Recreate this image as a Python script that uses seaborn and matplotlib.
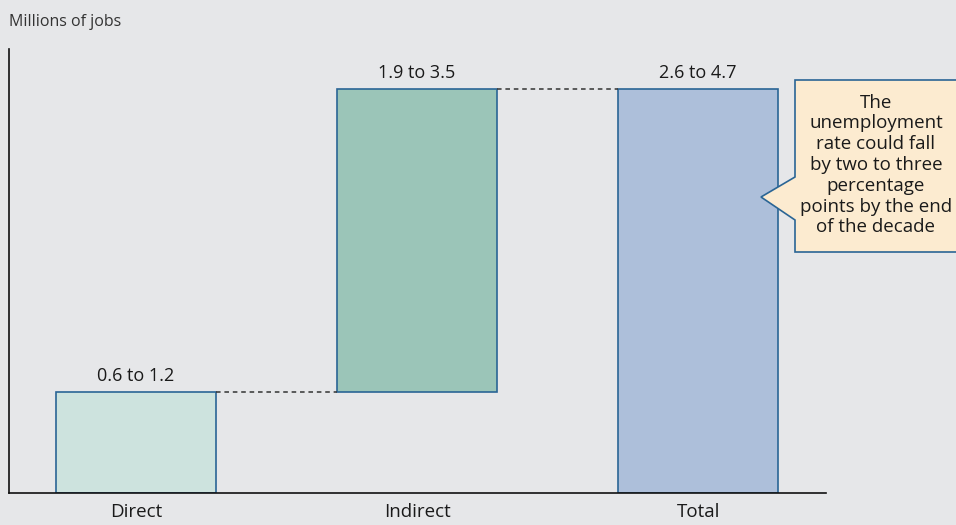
import numpy as np
import pandas as pd
import matplotlib
matplotlib.use("Agg")
import matplotlib.pyplot as plt
from matplotlib.patches import Polygon
import seaborn as sns

categories = ["Direct", "Indirect", "Total"]
bar_values = [0.9, 2.7, 3.6]
bar_bases = [0.0, 0.9, 0.0]
range_labels = ["0.6 to 1.2", "1.9 to 3.5", "2.6 to 4.7"]
bar_colors = ["#cde3de", "#9bc5b8", "#adbfda"]
y_label = "Millions of jobs"
callout_text = "The\nunemployment\nrate could fall\nby two to three\npercentage\npoints by the end\nof the decade"

bg = "#e6e7e9"
edge = "#2a6595"

sns.set_theme(style="white")
plt.rcParams["font.family"] = ["Open Sans", "DejaVu Sans"]

df = pd.DataFrame({"category": categories, "value": bar_values, "base": bar_bases})

fig = plt.figure(figsize=(9.56, 5.25), dpi=100, facecolor=bg)
ax = fig.add_axes([9 / 956, 32 / 525, 817 / 956, 444 / 525])
ax.set_facecolor(bg)

bar_width = 0.57
sns.barplot(data=df, x="category", y="value", bottom=df["base"].values,
            width=bar_width, color=bar_colors[0], edgecolor=edge,
            linewidth=1.2, ax=ax)
bars = ax.containers[0]
for patch, c in zip(bars, bar_colors):
    patch.set_facecolor(c)

ax.bar_label(bars, labels=range_labels, padding=5, fontsize=13, color="#1a1a1a")

# dashed connectors between bar tops
tops = df["base"] + df["value"]
for i in range(len(categories) - 1):
    y = tops[i]
    ax.plot([i + bar_width / 2, i + 1 - bar_width / 2], [y, y],
            ls=(0, (3, 2.5)), color="#333333", lw=1.1)

ax.set_xlim(-0.452, 2.455)
ax.set_ylim(0, 3.96)
ax.set_xlabel("")
ax.set_ylabel("")
ax.set_yticks([])
ax.tick_params(axis="x", length=0, pad=7, labelsize=13.5, labelcolor="#1a1a1a")
for s in ["top", "right"]:
    ax.spines[s].set_visible(False)
for s in ["left", "bottom"]:
    ax.spines[s].set_color("#111111")
    ax.spines[s].set_linewidth(1.2)

fig.text(9 / 956, 1 - 22 / 525, y_label, fontsize=11.5, color="#333333",
         ha="left", va="center")

# callout box with pointer
W, H = 956, 525
pts = [(795, 80), (990, 80), (990, 252), (795, 252), (795, 220), (761, 197), (795, 177)]
poly = Polygon([(x / W, 1 - y / H) for x, y in pts], closed=True,
               transform=fig.transFigure, facecolor="#fcebd0", edgecolor=edge,
               linewidth=1.2, clip_on=False)
fig.patches.append(poly)
fig.text(876 / W, 1 - 165 / H, callout_text, fontsize=13.5, color="#1a1a1a",
         ha="center", va="center", linespacing=1.2)

fig.savefig("out.png", dpi=100, facecolor=bg)
